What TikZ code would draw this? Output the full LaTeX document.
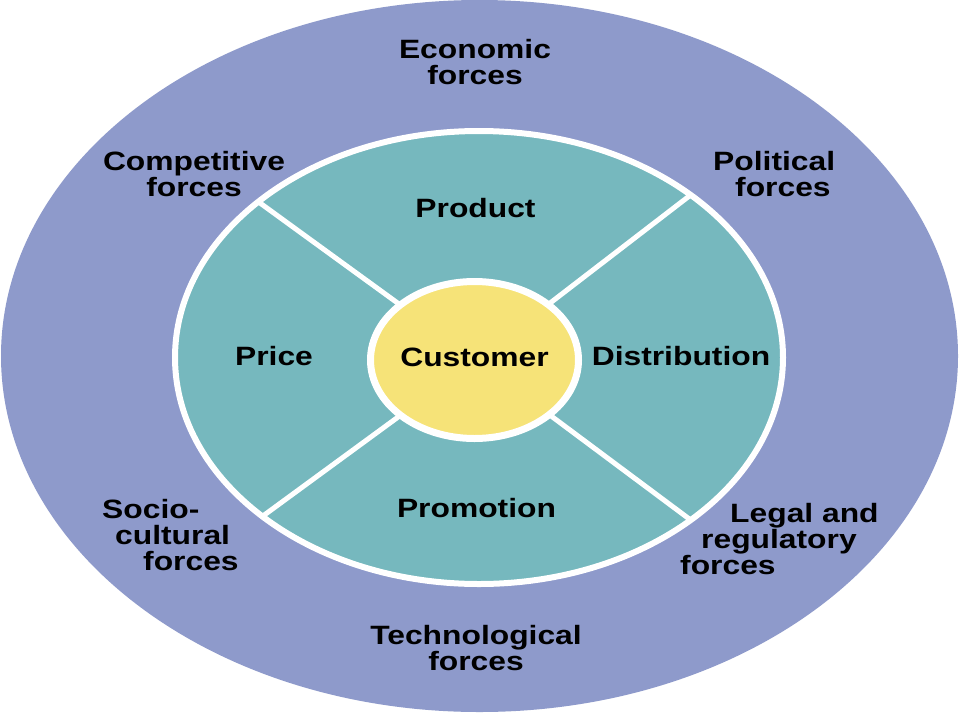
\documentclass[tikz,border=0pt]{standalone}
\usepackage{fontspec}
\newfontfamily\lblfont{Liberation Sans}[FakeStretch=1.2]
\usetikzlibrary{calc}
\definecolor{outerc}{RGB}{142,154,203}
\definecolor{tealc}{RGB}{118,184,190}
\definecolor{yellc}{RGB}{246,227,120}
\tikzset{
  lbl/.style={font=\lblfont\fontsize{26.5}{26}\selectfont\bfseries, inner sep=0pt, align=center, text=black},
  lblleft/.style={lbl, align=left, anchor=west},
  divider/.style={draw=white, line width=5pt},
  ringborder/.style={draw=white, line width=6pt}
}
\begin{document}
\begin{tikzpicture}[x=1pt,y=-1pt]
\useasboundingbox (0,0) rectangle (960,720);
\fill[white] (0,0) rectangle (960,720);
% outer ring
\fill[outerc] (479.5,356) ellipse [x radius=478.5, y radius=356];
% inner marketing-mix ellipse
\coordinate (mc) at (479,357.5);
\fill[tealc] (mc) ellipse [x radius=304, y radius=226.5];
\coordinate (cc) at (476,360);
\coordinate (ul) at (260,203);
\coordinate (ur) at (688,197);
\coordinate (ll) at (267,513);
\coordinate (lr) at (688,518);
\begin{scope}
  \clip (mc) ellipse [x radius=304, y radius=226.5];
  \draw[divider] (cc) -- ($(cc)!1.15!(ul)$);
  \draw[divider] (cc) -- ($(cc)!1.15!(ur)$);
  \draw[divider] (cc) -- ($(cc)!1.15!(ll)$);
  \draw[divider] (cc) -- ($(cc)!1.15!(lr)$);
\end{scope}
\draw[ringborder] (mc) ellipse [x radius=304, y radius=226.5];
% customer
\filldraw[fill=yellc, draw=white, line width=7pt] (474.5,360) ellipse [x radius=104, y radius=78.5];
% inner labels
\node[lbl, anchor=base] (customer) at (474.5,366) {Customer};
\node[lbl, anchor=base] (product) at (475.5,217) {Product};
\node[lbl, anchor=base] (price) at (274,365) {Price};
\node[lbl, anchor=base] (distribution) at (681,365) {Distribution};
\node[lbl, anchor=base] (promotion) at (476.5,517) {Promotion};
% outer labels
\node[lbl] (economic) at (475,62.5) {Economic\\forces};
\node[lbl] (competitive) at (194,174.3) {Competitive\\forces};
\node[lblleft] (political) at (713,174.3) {Political\\\hspace*{22pt}forces};
\node[lblleft] (sociocultural) at (102,535.5) {Socio-\\\hspace*{13pt}cultural\\\hspace*{41pt}forces};
\node[lblleft] (legal) at (680,539.4) {\hspace*{50pt}Legal and\\\hspace*{21pt}regulatory\\forces};
\node[lbl] (technological) at (476,648.4) {Technological\\forces};
\end{tikzpicture}
\end{document}
